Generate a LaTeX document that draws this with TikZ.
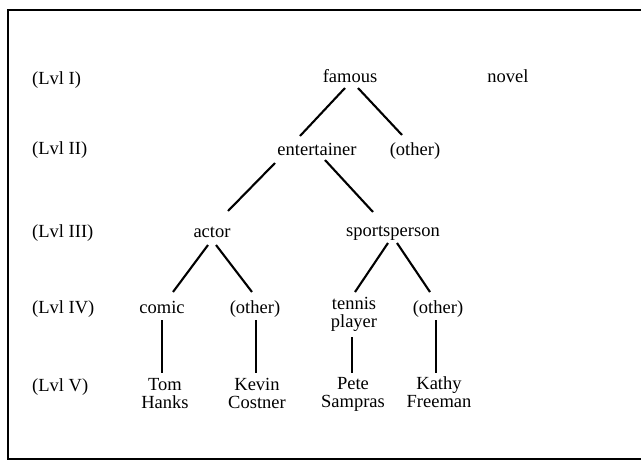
\documentclass[tikz,border=0pt]{standalone}
\usepackage{fontspec}
\setmainfont{Liberation Serif}
\usetikzlibrary{positioning}

\begin{document}
\begin{tikzpicture}[x=1pt, y=-1pt,
  word/.style={anchor=base, inner sep=0pt, font=\fontsize{18.5}{18}\selectfont, align=center},
  lvl/.style={word, anchor=base west},
  branch/.style={line width=2.1pt},
  stem/.style={line width=1.3pt}]
\useasboundingbox (0,0) rectangle (641,461);
% frame
\draw[line width=1.5pt] (641,10) -- (8,10) -- (8,459) -- (641,459);

% level labels
\node[lvl] (l1) at (32,84) {(Lvl I)};
\node[lvl] (l2) at (32,154) {(Lvl II)};
\node[lvl] (l3) at (32,237) {(Lvl III)};
\node[lvl] (l4) at (32,313) {(Lvl IV)};
\node[lvl] (l5) at (32,391) {(Lvl V)};

% tree (two-line nodes sit on their last line)
\node[word] (famous) at (350,82) {famous};
\node[word] (novel) at (508,82) {novel};
\node[word] (entertainer) at (317,155) {entertainer};
\node[word] (other2) at (415,155) {(other)};
\node[word] (actor) at (212,237) {actor};
\node[word] (sports) at (393,236) {sportsperson};
\node[word] (comic) at (162,313) {comic};
\node[word] (otherA) at (255,313) {(other)};
\node[word] (tennis) at (354,327) {tennis\\player};
\node[word] (otherB) at (438,313) {(other)};
\node[word] (tom) at (165,408) {Tom\\Hanks};
\node[word] (kevin) at (257,408) {Kevin\\Costner};
\node[word] (pete) at (353,407) {Pete\\Sampras};
\node[word] (kathy) at (439,407) {Kathy\\Freeman};

\draw[branch] ([xshift=-5pt,yshift=-6pt]famous.base) -- ([xshift=-17pt,yshift=19pt]entertainer.base);
\draw[branch] ([xshift=8pt,yshift=-6pt]famous.base) -- ([xshift=-13pt,yshift=20pt]other2.base);
\draw[branch] ([xshift=-42pt,yshift=-8pt]entertainer.base) -- ([xshift=16pt,yshift=26pt]actor.base);
\draw[branch] ([xshift=8pt,yshift=-5pt]entertainer.base) -- ([xshift=-20pt,yshift=24pt]sports.base);
\draw[branch] ([xshift=-4pt,yshift=-8pt]actor.base) -- ([xshift=11pt,yshift=21pt]comic.base);
\draw[branch] ([xshift=4pt,yshift=-8pt]actor.base) -- ([xshift=-3pt,yshift=21pt]otherA.base);
\draw[branch] ([xshift=-5pt,yshift=-7pt]sports.base) -- ([xshift=1pt,yshift=35pt]tennis.base);
\draw[branch] ([xshift=4pt,yshift=-7pt]sports.base) -- ([xshift=-8pt,yshift=21pt]otherB.base);

\draw[stem] ([yshift=-7pt]comic.base) -- ([xshift=-3pt,yshift=35pt]tom.base);
\draw[stem] ([xshift=1pt,yshift=-7pt]otherA.base) -- ([xshift=-1pt,yshift=35pt]kevin.base);
\draw[stem] ([xshift=-2pt,yshift=-10pt]tennis.base) -- ([xshift=-1pt,yshift=34pt]pete.base);
\draw[stem] ([xshift=-2pt,yshift=-7pt]otherB.base) -- ([xshift=-3pt,yshift=34pt]kathy.base);
\end{tikzpicture}
\end{document}
